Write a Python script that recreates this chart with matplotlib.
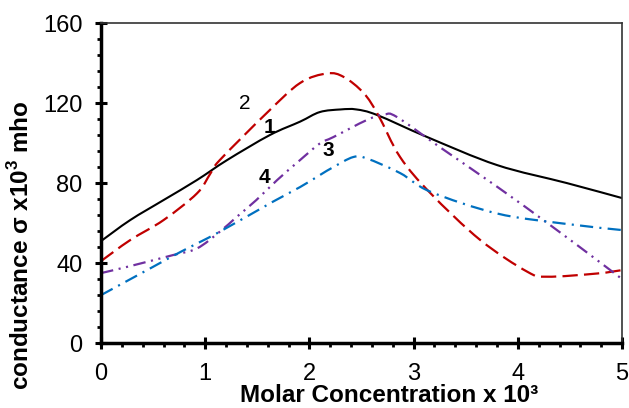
import matplotlib
matplotlib.use('Agg')
import matplotlib.pyplot as plt
import numpy as np
from matplotlib.path import Path
from matplotlib.patches import PathPatch
from matplotlib.ticker import MultipleLocator

plt.rcParams['font.family'] = ['Liberation Sans', 'DejaVu Sans']
plt.rcParams['mathtext.fontset'] = 'custom'
plt.rcParams['mathtext.rm'] = 'Liberation Sans'
plt.rcParams['mathtext.bf'] = 'Liberation Sans:bold'
plt.rcParams['lines.scale_dashes'] = False

# curve 1 (solid black)
x1 = [0, 0.28, 0.6, 0.92, 1.21, 1.62, 1.91, 2.1, 2.3, 2.45, 2.65, 3.13, 3.8, 4.47, 5]
y1 = [51, 61.5, 71.5, 81.5, 91.5, 104, 110.7, 115.5, 116.8, 116.8, 114, 103, 89, 80, 72.5]

# curve 2 (red dashed)
x2 = [0, 0.28, 0.6, 0.92, 1.05, 1.14, 1.59, 1.91, 2.17, 2.33, 2.52, 2.66, 2.87, 3.16, 3.64, 4.09, 4.28, 4.76, 5]
y2 = [41, 51.5, 61.5, 74.8, 84.8, 91.5, 115, 130, 134.8, 133, 125, 114, 93, 75, 51.5, 35.7, 33.2, 34.8, 36.5]

# curve 3 (purple dash-dot-dot)
x3 = [0, 0.28, 0.69, 0.92, 1.14, 1.3, 1.49, 1.69, 1.91, 2.1, 2.23, 2.55, 2.72, 2.84, 3.25, 3.8, 4.31, 4.76, 5]
y3 = [35, 38.5, 44, 47.3, 55.7, 63, 71.5, 81.5, 91.5, 99.8, 103, 111.5, 114.3, 113, 98, 78.2, 59, 41.5, 32]

# curve 4 (blue dash-dot)
x4 = [0, 0.47, 0.76, 1.14, 1.65, 1.91, 2.1, 2.23, 2.42, 2.55, 2.87, 3.16, 3.8, 4.43, 5]
y4 = [24, 37.3, 45.5, 55.7, 70.7, 78, 84, 88, 93, 92.3, 85, 75.7, 64.8, 59.8, 56.5]


def smooth_line(ax, x, y, **kw):
    # Excel-style smoothed line: cubic bezier segments through the points
    p = np.column_stack([x, y]).astype(float)
    n = len(p)
    verts = [p[0]]
    codes = [Path.MOVETO]
    for i in range(n - 1):
        prev = p[i - 1] if i > 0 else p[i]
        nxt = p[i + 2] if i + 2 < n else p[i + 1]
        c1 = p[i] + (p[i + 1] - prev) / 6
        c2 = p[i + 1] - (nxt - p[i]) / 6
        verts += [c1, c2, p[i + 1]]
        codes += [Path.CURVE4] * 3
    patch = PathPatch(Path(verts, codes), fill=False, capstyle='butt', **kw)
    ax.add_patch(patch)


fig = plt.figure(figsize=(6.29, 4.08), dpi=100)
ax = fig.add_axes([0.1606, 0.159, 0.8284, 0.7846])

smooth_line(ax, x1, y1, edgecolor='black', lw=1.5)
smooth_line(ax, x2, y2, edgecolor='#C00000', lw=1.6, linestyle=(0, (11, 4.5)))
smooth_line(ax, x3, y3, edgecolor='#7030A0', lw=1.6, linestyle=(0, (9, 4, 1.5, 4, 1.5, 4)))
smooth_line(ax, x4, y4, edgecolor='#0070C0', lw=1.6, linestyle=(0, (9.5, 4.5, 1.5, 4.5)))

# curve numbers
ax.text(1.38, 120, '2', fontsize=15, ha='center', va='center')
ax.text(1.62, 108, '1', fontsize=15, fontweight='bold', ha='center', va='center')
ax.text(2.18, 96.5, '3', fontsize=15, fontweight='bold', ha='center', va='center')
ax.text(1.565, 83, '4', fontsize=15, fontweight='bold', ha='center', va='center')

ax.set_xlim(0, 5)
ax.set_ylim(0, 160)
ax.xaxis.set_major_locator(MultipleLocator(1))
ax.xaxis.set_minor_locator(MultipleLocator(0.2))
ax.yaxis.set_major_locator(MultipleLocator(40))
ax.yaxis.set_minor_locator(MultipleLocator(8))

ax.tick_params(which='major', direction='inout', length=9, width=2.2, labelsize=17)
ax.tick_params(which='minor', direction='out', length=3, width=2)
ax.tick_params(axis='y', which='major', pad=9)
ax.tick_params(axis='x', which='major', pad=10)

for s in ['left', 'bottom']:
    ax.spines[s].set_linewidth(2.5)
for s in ['top', 'right']:
    ax.spines[s].set_linewidth(1.2)
    ax.spines[s].set_color('#333333')

ax.set_xlabel('Molar Concentration x 10³', fontsize=17.5, fontweight='bold')
ax.set_ylabel(r'conductance σ x10$^{\mathbf{3}}$ mho', fontsize=17.5, fontweight='bold')
ax.xaxis.set_label_coords(0.553, -0.127)
ax.yaxis.set_label_coords(-0.128, 0.306)

fig.savefig('out.png', dpi=100)
